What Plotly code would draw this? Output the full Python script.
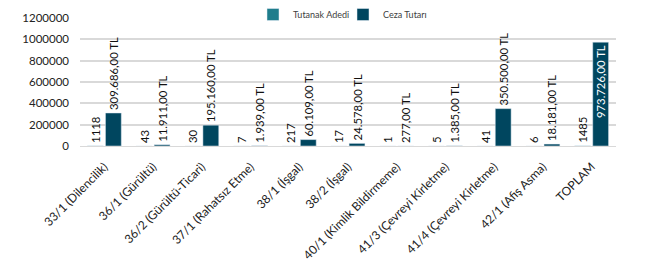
import plotly.graph_objects as go

categories = ["33/1 (Dilencilik)", "36/1 (Gürültü)", "36/2 (Gürültü-Ticari)", "37/1 (Rahatsız Etme)",
              "38/1 (İşgal)", "38/2 (İşgal)", "40/1 (Kimlik Bildirmeme)", "41/3 (Çevreyi Kirletme)",
              "41/4 (Çevreyi Kirletme)", "42/1 (Afiş Asma)", "TOPLAM"]
tutanak_adedi = [1118, 43, 30, 7, 217, 17, 1, 5, 41, 6, 1485]
ceza_tutari = [309686, 11911, 195160, 1939, 60109, 24578, 277, 1385, 350500, 18181, 973726]
y_ticks = [0, 200000, 400000, 600000, 800000, 1000000, 1200000]


def tl(v):
    s = f"{v:,}".replace(",", ".")
    return s + ",00 TL"


FONT = "Lato, Carlito, 'Open Sans', sans-serif"
fig = go.Figure()
fig.add_trace(go.Bar(
    name="Tutanak Adedi", x=categories, y=tutanak_adedi,
    marker_color="#1F7D8C",
    text=[str(v) for v in tutanak_adedi], textposition="outside", textangle=-90,
    textfont=dict(size=11.3, color="#111111", family=FONT), cliponaxis=False,
    constraintext="none",
))
fig.add_trace(go.Bar(
    name="Ceza Tutarı", x=categories, y=ceza_tutari,
    marker_color="#00465F",
    text=[tl(v) for v in ceza_tutari],
    textposition=["outside"] * 10 + ["inside"], textangle=-90,
    textfont=dict(size=11.3, color="#111111", family=FONT),
    insidetextfont=dict(size=11.3, color="#FFFFFF", family=FONT),
    insidetextanchor="end", cliponaxis=False, constraintext="none",
))
fig.update_layout(
    width=669, height=262,
    margin=dict(l=80, r=53, t=18, b=116, autoexpand=False),
    paper_bgcolor="white", plot_bgcolor="white",
    barmode="group", bargap=0.26, bargroupgap=0.12,
    font=dict(family=FONT, color="#404040", size=12),
    showlegend=True,
    legend=dict(orientation="h", x=253 / 669, xanchor="left", xref="container",
                y=1.0, yanchor="top", yref="container",
                font=dict(size=9, color="#404040", family=FONT),
                itemwidth=30, entrywidth=45, bgcolor="rgba(0,0,0,0)"),
    xaxis=dict(tickangle=-45, tickfont=dict(size=12, color="#222222"), showline=True,
               linecolor="#D9D9D9", linewidth=1, ticks="", showgrid=False, automargin=False,
               ticklabelstandoff=8),
    yaxis=dict(range=[0, 1200000], tickvals=y_ticks, ticktext=[str(v) for v in y_ticks],
               showgrid=True, gridcolor="#D9D9D9", gridwidth=1.5, zeroline=False,
               tickfont=dict(size=11.5, color="#222222"), ticks="", ticklabelstandoff=10,
               automargin=False),
)
fig.write_html("out.html", config={"displayModeBar": False},
               post_script="document.body.style.margin='0';")
